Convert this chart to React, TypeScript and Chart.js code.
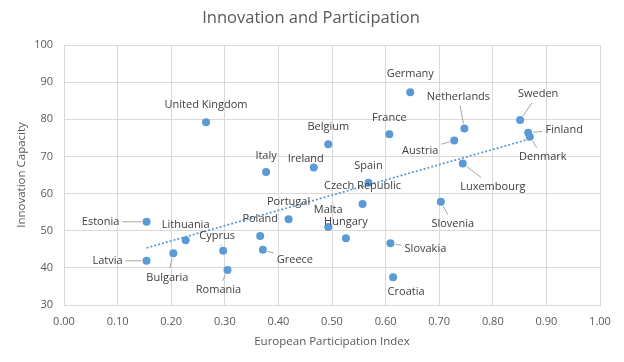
import React, { useEffect, useRef } from "react";
import { Chart, registerables } from "chart.js";

Chart.register(...registerables);

const countries = [
  "United Kingdom", "Belgium", "Italy", "Ireland", "Germany", "France", "Netherlands",
  "Austria", "Sweden", "Finland", "Denmark", "Luxembourg", "Spain", "Czech Republic",
  "Malta", "Hungary", "Portugal", "Poland", "Greece", "Cyprus", "Romania", "Lithuania",
  "Bulgaria", "Estonia", "Latvia", "Slovenia", "Slovakia", "Croatia",
];
const participation = [
  0.265, 0.493, 0.377, 0.466, 0.646, 0.607, 0.747,
  0.728, 0.851, 0.866, 0.869, 0.744, 0.568, 0.557,
  0.493, 0.526, 0.419, 0.366, 0.371, 0.297, 0.305, 0.227,
  0.204, 0.154, 0.154, 0.703, 0.609, 0.614,
];
const innovation = [
  79.2, 73.3, 65.8, 67.0, 87.3, 76.0, 77.5,
  74.3, 79.8, 76.4, 75.3, 68.1, 62.9, 57.2,
  51.0, 48.0, 53.1, 48.6, 44.9, 44.6, 39.4, 47.4,
  43.9, 52.4, 41.9, 57.8, 46.6, 37.5,
];
// label placement relative to each point: [dx, dy, leader line]
const labelOffsets: [number, number, boolean][] = [
  [0, -17, false], [0, -17, false], [0, -16, false], [-8, -9, false], [0, -18, false], [0, -16, false], [-6, -32, true],
  [-34, 10, true], [18, -26, true], [36, -3, true], [13, 20, true], [30, 23, true], [0, -17, false], [0, -18, false],
  [0, -17, false], [0, -16, false], [0, -17, false], [0, -17, false], [32, 10, true], [-6, -15, true], [-9, 20, true], [0, -16, false],
  [-6, 24, true], [-46, 0, true], [-39, 0, true], [12, 22, true], [35, 6, true], [13, 15, false],
];

const chartTitle = "Innovation and Participation";
const xTitle = "European Participation Index";
const yTitle = "Innovation Capacity";
const xMin = 0, xMax = 1, xStep = 0.1;
const yMin = 30, yMax = 100, yStep = 10;

const FONT = "'Open Sans', 'Noto Sans', sans-serif";
const BLUE = "#5b9bd5";

function regression(xs: number[], ys: number[]) {
  const n = xs.length;
  const mx = xs.reduce((a, b) => a + b, 0) / n;
  const my = ys.reduce((a, b) => a + b, 0) / n;
  let sxy = 0, sxx = 0;
  for (let i = 0; i < n; i++) {
    sxy += (xs[i] - mx) * (ys[i] - my);
    sxx += (xs[i] - mx) * (xs[i] - mx);
  }
  const b = sxy / sxx;
  return { a: my - b * mx, b };
}

const textPlugin = {
  id: "textPlugin",
  afterDatasetsDraw(chart: any) {
    const ctx = chart.ctx;
    const meta = chart.getDatasetMeta(1);
    ctx.save();
    ctx.font = `11px ${FONT}`;
    ctx.textAlign = "center";
    ctx.textBaseline = "middle";
    meta.data.forEach((pt: any, i: number) => {
      const [dx, dy, leader] = labelOffsets[i];
      const cx = pt.x + dx, cy = pt.y + dy;
      const text = countries[i];
      if (leader) {
        const w = ctx.measureText(text).width / 2 + 3;
        const h = 9;
        const vx = pt.x - cx, vy = pt.y - cy;
        let t = 1;
        if (vx !== 0) t = Math.min(t, w / Math.abs(vx));
        if (vy !== 0) t = Math.min(t, h / Math.abs(vy));
        const ex = cx + vx * t, ey = cy + vy * t;
        const len = Math.hypot(pt.x - ex, pt.y - ey);
        if (len > 6) {
          const sx = pt.x + ((ex - pt.x) / len) * 5;
          const sy = pt.y + ((ey - pt.y) / len) * 5;
          ctx.strokeStyle = "#a6a6a6";
          ctx.lineWidth = 1;
          ctx.beginPath();
          ctx.moveTo(sx, sy);
          ctx.lineTo(ex, ey);
          ctx.stroke();
        }
      }
      ctx.fillStyle = "#404040";
      ctx.fillText(text, cx, cy);
    });
    ctx.restore();
  },
  afterDraw(chart: any) {
    const ctx = chart.ctx;
    const area = chart.chartArea;
    ctx.save();
    ctx.fillStyle = "#595959";
    ctx.textAlign = "center";
    ctx.textBaseline = "middle";
    ctx.font = `16.5px ${FONT}`;
    ctx.fillText(chartTitle, 311, 18);
    ctx.font = `11.5px ${FONT}`;
    ctx.fillText(xTitle, (area.left + area.right) / 2, 342);
    ctx.translate(22, (area.top + area.bottom) / 2);
    ctx.rotate(-Math.PI / 2);
    ctx.fillText(yTitle, 0, 0);
    ctx.restore();
  },
};

export default function App() {
  const ref = useRef<HTMLCanvasElement>(null);
  useEffect(() => {
    if (!ref.current) return;
    const { a, b } = regression(participation, innovation);
    const lo = Math.min(...participation);
    const hi = Math.max(...participation);
    const points = participation.map((x, i) => ({ x, y: innovation[i] }));
    const chart = new Chart(ref.current, {
      type: "scatter",
      data: {
        datasets: [
          {
            label: "Trend",
            data: [{ x: lo, y: a + b * lo }, { x: hi, y: a + b * hi }],
            showLine: true,
            borderColor: BLUE,
            borderWidth: 1.75,
            borderDash: [2, 2],
            pointRadius: 0,
            fill: false,
          } as any,
          {
            label: "Countries",
            data: points,
            backgroundColor: BLUE,
            borderColor: BLUE,
            pointRadius: 4,
            borderWidth: 0,
          },
        ],
      },
      options: {
        animation: false,
        responsive: true,
        maintainAspectRatio: false,
        events: [],
        layout: { padding: { left: 0, top: 45, right: 24, bottom: 0 } },
        plugins: { legend: { display: false }, tooltip: { enabled: false }, title: { display: false } },
        scales: {
          x: {
            type: "linear",
            min: xMin,
            max: xMax,
            afterFit: (s: any) => { s.height = 57; },
            ticks: {
              stepSize: xStep,
              callback: (v: any) => Number(v).toFixed(2),
              color: "#595959",
              font: { family: FONT, size: 11 },
              padding: 10,
            },
            grid: { color: "#d9d9d9", drawTicks: false },
            border: { color: "#d9d9d9" },
          },
          y: {
            type: "linear",
            min: yMin,
            max: yMax,
            afterFit: (s: any) => { s.width = 64; },
            ticks: {
              stepSize: yStep,
              color: "#595959",
              font: { family: FONT, size: 11 },
              padding: 11,
            },
            grid: { color: "#d9d9d9", drawTicks: false },
            border: { color: "#d9d9d9" },
          },
        },
      },
      plugins: [textPlugin],
    });
    return () => chart.destroy();
  }, []);
  return (
    <div style={{ position: "absolute", left: 0, top: 0, width: 624, height: 362, background: "#fff" }}>
      <canvas ref={ref} />
    </div>
  );
}
